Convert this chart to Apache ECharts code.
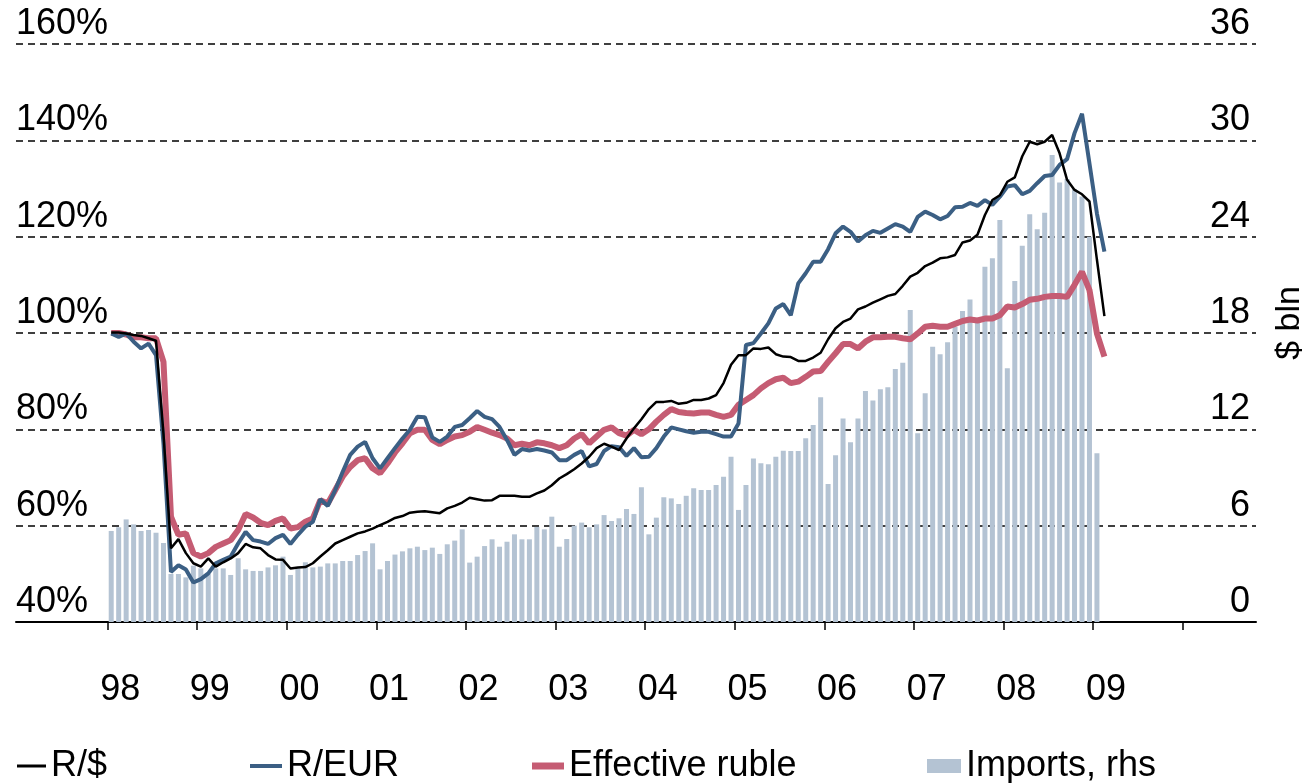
<!DOCTYPE html>
<html>
<head>
<meta charset="utf-8">
<title>Ruble exchange rates and imports</title>
<script src="https://cdn.jsdelivr.net/npm/echarts@6/dist/echarts.min.js"></script>
<style>
    html, body { margin: 0; padding: 0; background: #fff; }
    #rubleChart { width: 1308px; height: 783px; }
</style>
</head>
<body>
<div id="rubleChart"></div>
<script>
/* ------------------------------------------------------------------------------
 *
 *  # Ruble exchange rate indices and imports, Jan 1998 - Feb 2009
 *
 * ---------------------------------------------------------------------------- */


// Data (monthly, index Jan 98 = 100%; imports in $ bln)
// ------------------------------

var yearLabels = ['98', '99', '00', '01', '02', '03', '04', '05', '06', '07', '08', '09'];

var usdIndex = [
    100.1, 100.1, 99.9, 99.6, 99.4, 98.9, 98.4, 79.0, 55.3, 57.2, 54.3, 52.2,
    51.5, 53.2, 51.5, 52.4, 53.2, 54.3, 56.2, 55.5, 55.3, 53.9, 53.0, 52.9,
    51.1, 51.3, 51.4, 52.2, 53.6, 54.9, 56.3, 57.0, 57.7, 58.4, 58.8, 59.4,
    60.1, 60.8, 61.6, 62.0, 62.7, 62.9, 63.0, 62.8, 62.6, 63.6, 64.1, 64.8,
    65.8, 65.5, 65.2, 65.3, 66.2, 66.2, 66.2, 66.0, 66.0, 66.7, 67.3, 68.4,
    69.8, 70.7, 71.7, 72.9, 74.3, 76.1, 77.0, 76.4, 75.7, 78.1, 80.2, 82.1,
    84.2, 85.7, 85.7, 85.9, 85.3, 85.5, 86.1, 86.1, 86.4, 87.1, 89.6, 93.4,
    95.4, 95.4, 96.8, 96.7, 97.0, 95.6, 95.1, 95.0, 94.2, 94.2, 94.9, 95.9,
    98.7, 101.0, 102.3, 103.0, 104.9, 105.5, 106.3, 107.0, 107.7, 108.1, 109.8, 111.7,
    112.5, 113.9, 114.6, 115.5, 115.7, 116.2, 118.8, 119.2, 120.4, 124.5, 127.6, 128.6,
    131.4, 132.3, 136.7, 139.7, 139.2, 139.7, 141.1, 137.3, 131.8, 129.7, 128.8, 127.3,
    115.2, 103.5
];

var eurIndex = [
    99.9, 99.2, 99.9, 98.2, 96.8, 97.8, 95.4, 77.0, 50.4, 51.8, 50.9, 48.2,
    48.9, 50.1, 52.2, 52.9, 53.6, 56.3, 58.7, 57.0, 56.7, 56.2, 57.4, 58.1,
    56.2, 58.1, 59.8, 60.8, 65.5, 64.1, 67.4, 71.2, 74.7, 76.4, 77.4, 74.0,
    71.9, 74.0, 76.1, 78.1, 79.9, 82.6, 82.5, 78.3, 77.4, 78.5, 80.5, 80.9,
    82.3, 83.8, 82.6, 82.1, 80.5, 77.8, 74.7, 75.9, 75.6, 75.9, 75.6, 75.2,
    73.6, 73.6, 74.7, 75.5, 72.3, 72.8, 75.5, 76.5, 76.3, 74.5, 76.1, 74.2,
    74.3, 76.1, 78.5, 80.4, 80.0, 79.6, 79.3, 79.5, 79.5, 79.0, 78.5, 78.5,
    81.2, 97.5, 97.9, 99.9, 102.0, 105.1, 106.0, 103.7, 110.3, 112.4, 114.8, 114.8,
    117.4, 120.7, 122.1, 121.0, 119.0, 120.3, 121.2, 120.8, 121.7, 122.6, 122.1, 121.0,
    124.1, 125.2, 124.5, 123.6, 124.3, 126.1, 126.2, 127.0, 126.4, 127.6, 126.6, 128.3,
    130.4, 130.7, 128.8, 129.5, 131.1, 132.6, 132.8, 134.9, 136.1, 141.5, 145.5, 135.2,
    124.8, 116.9
];

var effIndex = [
    100.0, 100.0, 99.7, 99.1, 99.1, 98.9, 98.9, 94.0, 61.9, 58.1, 58.4, 54.3,
    53.6, 54.3, 55.6, 56.3, 57.0, 59.1, 62.4, 61.7, 60.6, 60.1, 61.0, 61.5,
    59.4, 59.7, 60.8, 61.5, 65.3, 64.6, 67.4, 70.2, 72.2, 73.6, 74.0, 71.9,
    70.9, 72.9, 75.2, 77.1, 79.2, 79.9, 79.9, 77.8, 76.9, 77.8, 78.5, 78.8,
    79.5, 80.5, 79.9, 79.3, 78.8, 78.1, 76.7, 77.0, 76.7, 77.3, 77.1, 76.7,
    76.1, 76.7, 78.1, 79.0, 77.1, 78.5, 79.9, 80.4, 79.2, 78.7, 79.9, 79.0,
    80.0, 81.6, 83.0, 84.2, 83.6, 83.4, 83.3, 83.5, 83.5, 83.0, 82.6, 83.0,
    85.1, 86.1, 87.1, 88.5, 89.6, 90.4, 90.7, 89.6, 89.9, 90.9, 92.0, 92.1,
    94.0, 95.8, 97.7, 97.7, 96.8, 98.2, 99.1, 99.1, 99.2, 99.2, 98.9, 98.7,
    99.9, 101.3, 101.5, 101.3, 101.3, 101.9, 102.5, 102.8, 102.6, 103.0, 103.0, 103.7,
    105.5, 105.3, 106.0, 106.9, 107.1, 107.5, 107.7, 107.7, 107.5, 110.0, 112.7, 108.9,
    99.9, 95.1
];

var imports = [
    5.67, 5.90, 6.39, 6.08, 5.67, 5.73, 5.56, 4.92, 2.99, 2.99, 2.78, 3.51,
    3.34, 2.99, 3.34, 3.34, 2.93, 3.97, 3.28, 3.18, 3.18, 3.40, 3.53, 4.07,
    2.93, 3.34, 3.72, 3.40, 3.45, 3.65, 3.65, 3.80, 3.80, 4.17, 4.42, 4.90,
    3.28, 3.80, 4.20, 4.40, 4.59, 4.69, 4.48, 4.63, 4.24, 4.84, 5.07, 5.77,
    3.70, 4.07, 4.73, 5.15, 4.69, 5.00, 5.46, 5.15, 5.15, 5.92, 5.77, 6.56,
    4.69, 5.17, 6.00, 6.19, 5.90, 6.08, 6.66, 6.29, 6.46, 7.04, 6.73, 8.39,
    5.46, 6.50, 7.77, 7.70, 7.35, 7.86, 8.33, 8.22, 8.22, 8.53, 9.05, 10.30,
    6.98, 8.53, 10.19, 9.88, 9.82, 10.30, 10.67, 10.65, 10.65, 11.44, 12.27, 14.00,
    8.60, 10.38, 12.68, 11.19, 12.68, 14.39, 13.79, 14.49, 14.62, 15.76, 16.15, 19.43,
    11.75, 14.24, 17.15, 16.67, 17.42, 18.39, 19.37, 20.08, 18.70, 22.13, 22.65, 25.04,
    15.80, 21.24, 23.44, 25.39, 24.46, 25.49, 29.09, 27.38, 27.59, 26.95, 26.50, 24.00,
    10.51
];


// Setup module
// ------------------------------

var RubleChart = function() {

    // Months since Jan 98, plotted at mid-month
    var toPoints = function(values) {
        return values.map(function(v, i) {
            return [i + 0.5, v];
        });
    };

    var yearTicks = [];
    var yearLabelPos = [];
    for (var i = 0; i <= yearLabels.length; i++) {
        yearTicks.push(i * 12);
        if (i < yearLabels.length) yearLabelPos.push(i * 12 + 1.7);
    }

    var _rubleChart = function() {
        if (typeof echarts == 'undefined') {
            console.warn('Warning - echarts.min.js is not loaded.');
            return;
        }

        var chart_element = document.getElementById('rubleChart');
        if (!chart_element) return;

        var chart = echarts.init(chart_element);

        var fontFamily = '"Liberation Sans", Arial, sans-serif';
        var legendText = { fontSize: 36, color: '#000', fontFamily: fontFamily };

        var option = {
            animation: false,

            textStyle: {
                fontFamily: fontFamily,
                color: '#000'
            },

            // Fixed plot box, labels are allowed to sit outside it
            grid: {
                left: 16,
                right: 52,
                top: 44,
                bottom: 161,
                outerBoundsMode: 'none'
            },

            // One legend per item so each key keeps its own shape
            legend: [{
                left: 17, top: 748, padding: 0, itemWidth: 29, itemHeight: 3, icon: 'rect',
                textStyle: legendText, data: ['R/$']
            }, {
                left: 250, top: 748, padding: 0, itemWidth: 32, itemHeight: 4, icon: 'rect',
                textStyle: legendText, data: ['R/EUR']
            }, {
                left: 532, top: 748, padding: 0, itemWidth: 32, itemHeight: 7, icon: 'rect',
                textStyle: legendText, data: ['Effective ruble']
            }, {
                left: 927, top: 748, padding: 0, itemWidth: 34, itemHeight: 14, icon: 'rect',
                textStyle: legendText, data: ['Imports, rhs']
            }],

            xAxis: {
                type: 'value',
                min: -12.25,
                max: 153.8,
                axisLine: {
                    lineStyle: { color: '#000', width: 2 }
                },
                axisTick: {
                    customValues: yearTicks,
                    length: 8,
                    lineStyle: { color: '#000', width: 1.5 }
                },
                axisLabel: {
                    customValues: yearLabelPos,
                    margin: 50,
                    fontSize: 36,
                    color: '#000',
                    formatter: function(v) {
                        return yearLabels[Math.round((v - 1.7) / 12)];
                    }
                },
                splitLine: { show: false }
            },

            yAxis: [{
                type: 'value',
                position: 'left',
                min: 40,
                max: 160,
                interval: 20,
                axisLine: { show: false },
                axisTick: { show: false },
                axisLabel: {
                    inside: true,
                    margin: 0,
                    align: 'left',
                    verticalAlign: 'bottom',
                    padding: [0, 0, 2, 0],
                    fontSize: 36,
                    color: '#000',
                    formatter: '{value}%'
                },
                splitLine: {
                    lineStyle: { color: '#000', width: 1.5, type: [7, 5] }
                }
            }, {
                type: 'value',
                position: 'right',
                min: 0,
                max: 36,
                interval: 6,
                name: '$ bln',
                nameLocation: 'middle',
                nameRotate: 90,
                nameGap: 17,
                nameTextStyle: { fontSize: 34, color: '#000', padding: [0, 0, 0, 20] },
                axisLine: { show: false },
                axisTick: { show: false },
                axisLabel: {
                    inside: true,
                    margin: 6,
                    align: 'right',
                    verticalAlign: 'bottom',
                    padding: [0, 0, 2, 0],
                    fontSize: 36,
                    color: '#000'
                },
                splitLine: { show: false }
            }],

            series: [{
                name: 'Imports, rhs',
                type: 'bar',
                yAxisIndex: 1,
                barWidth: 5,
                itemStyle: { color: '#b4c3d3' },
                data: toPoints(imports)
            }, {
                name: 'Effective ruble',
                type: 'line',
                symbol: 'none',
                itemStyle: { color: '#c55c73' },
                lineStyle: { color: '#c55c73', width: 6 },
                data: toPoints(effIndex)
            }, {
                name: 'R/EUR',
                type: 'line',
                symbol: 'none',
                itemStyle: { color: '#3b5f84' },
                lineStyle: { color: '#3b5f84', width: 4 },
                data: toPoints(eurIndex)
            }, {
                name: 'R/$',
                type: 'line',
                symbol: 'none',
                itemStyle: { color: '#000' },
                lineStyle: { color: '#000', width: 2.5 },
                data: toPoints(usdIndex)
            }]
        };

        chart.setOption(option);

        // Resize chart
        window.onresize = function() {
            chart.resize();
        };
    };

    return {
        init: function() {
            _rubleChart();
        }
    }
}();


// Initialize module
// ------------------------------

document.addEventListener('DOMContentLoaded', function() {
    RubleChart.init();
});
</script>
</body>
</html>
